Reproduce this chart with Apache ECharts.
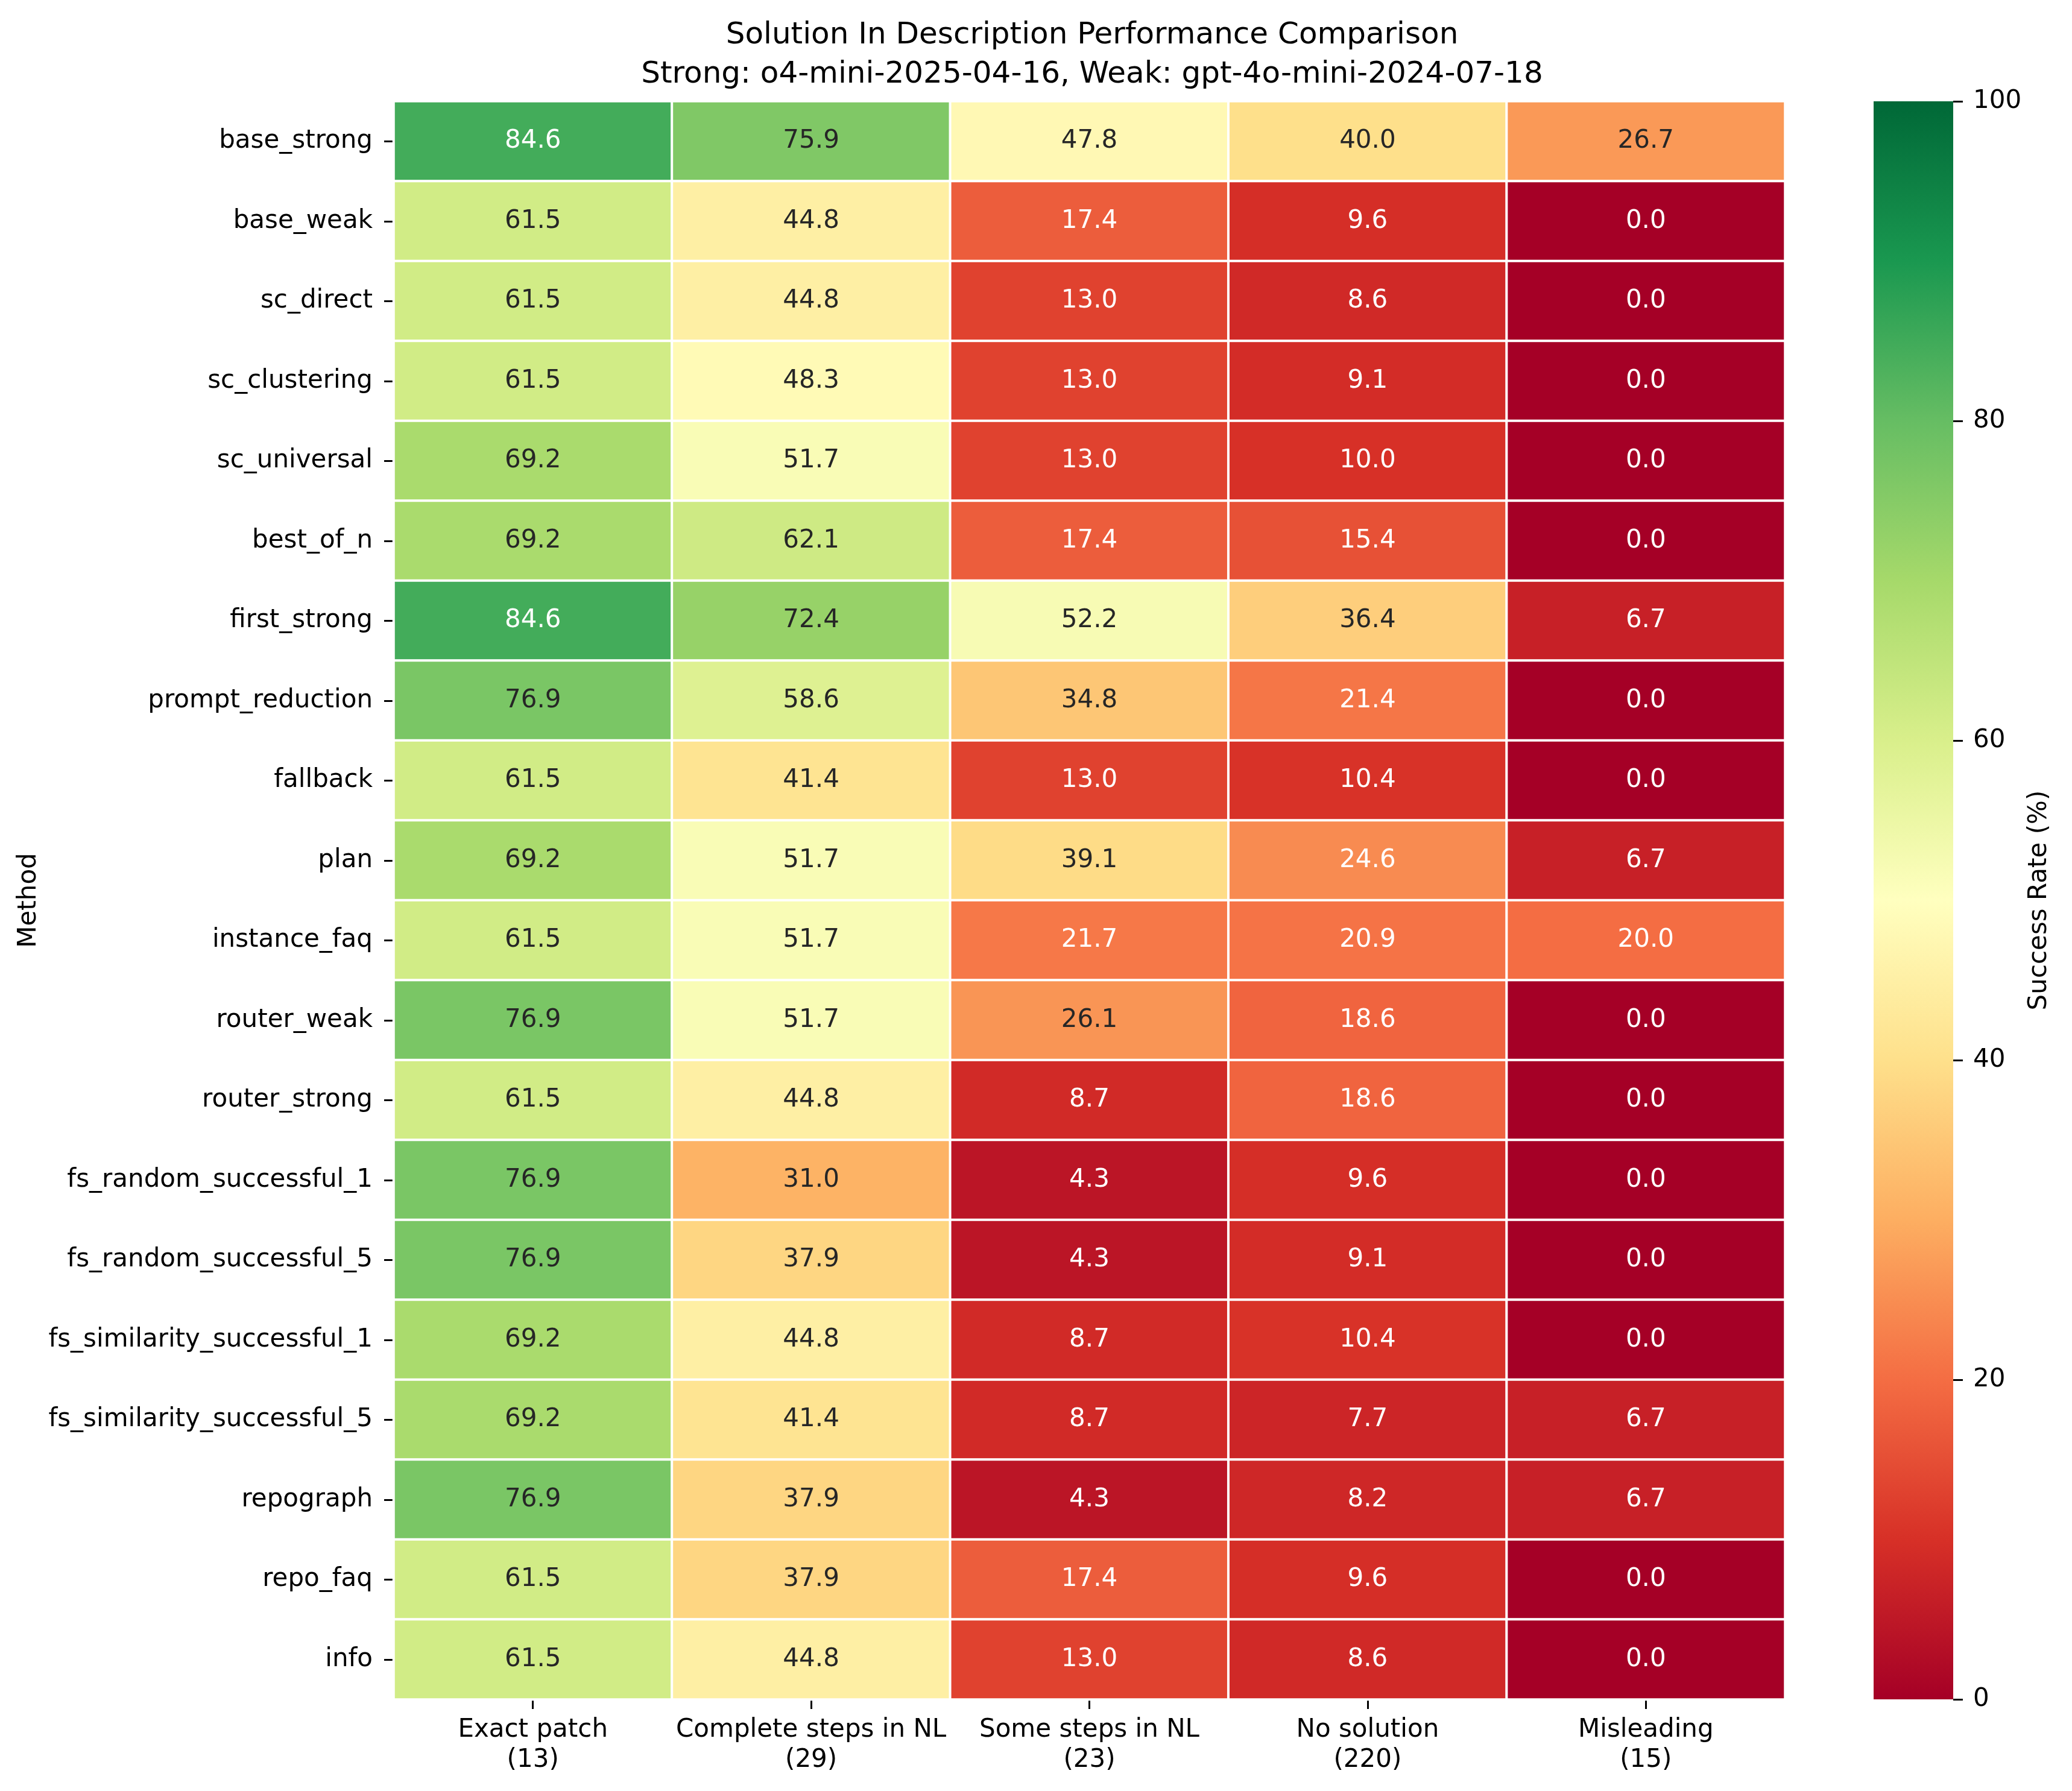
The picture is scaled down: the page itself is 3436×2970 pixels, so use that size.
<!DOCTYPE html>
<html>
<head>
<meta charset="utf-8">
<script src="https://cdn.jsdelivr.net/npm/echarts@6/dist/echarts.min.js"></script>
<style>
html,body{margin:0;padding:0;background:#fff;}
#chart{width:3436px;height:2970px;}
</style>
</head>
<body>
<div id="chart"></div>
<script>
// ---- data ----
var methods = ["base_strong","base_weak","sc_direct","sc_clustering","sc_universal","best_of_n","first_strong","prompt_reduction","fallback","plan","instance_faq","router_weak","router_strong","fs_random_successful_1","fs_random_successful_5","fs_similarity_successful_1","fs_similarity_successful_5","repograph","repo_faq","info"];
var categories = ["Exact patch\n(13)","Complete steps in NL\n(29)","Some steps in NL\n(23)","No solution\n(220)","Misleading\n(15)"];
var exactPatch    = [84.6,61.5,61.5,61.5,69.2,69.2,84.6,76.9,61.5,69.2,61.5,76.9,61.5,76.9,76.9,69.2,69.2,76.9,61.5,61.5];
var completeSteps = [75.9,44.8,44.8,48.3,51.7,62.1,72.4,58.6,41.4,51.7,51.7,51.7,44.8,31.0,37.9,44.8,41.4,37.9,37.9,44.8];
var someSteps     = [47.8,17.4,13.0,13.0,13.0,17.4,52.2,34.8,13.0,39.1,21.7,26.1,8.7,4.3,4.3,8.7,8.7,4.3,17.4,13.0];
var noSolution    = [40.0,9.6,8.6,9.1,10.0,15.4,36.4,21.4,10.4,24.6,20.9,18.6,18.6,9.6,9.1,10.4,7.7,8.2,9.6,8.6];
var misleading    = [26.7,0.0,0.0,0.0,0.0,0.0,6.7,0.0,0.0,6.7,20.0,0.0,0.0,0.0,0.0,0.0,6.7,6.7,0.0,0.0];
var colorbarTicks = [0,20,40,60,80,100];

// RdYlGn colormap control points
var rdylgn = ["#a50026","#d73027","#f46d43","#fdae61","#fee08b","#ffffbf","#d9ef8b","#a6d96a","#66bd63","#1a9850","#006837"];

function hexToRgb(h){return [parseInt(h.substr(1,2),16),parseInt(h.substr(3,2),16),parseInt(h.substr(5,2),16)];}
function cmap(v){
  var t=Math.max(0,Math.min(1,v/100))*(rdylgn.length-1);
  var i=Math.min(Math.floor(t),rdylgn.length-2), f=t-i;
  var a=hexToRgb(rdylgn[i]), b=hexToRgb(rdylgn[i+1]);
  return [a[0]+(b[0]-a[0])*f,a[1]+(b[1]-a[1])*f,a[2]+(b[2]-a[2])*f];
}
function lum(rgb){
  var c=rgb.map(function(x){x=x/255;return x<=0.03928?x/12.92:Math.pow((x+0.055)/1.055,2.4);});
  return 0.2126*c[0]+0.7152*c[1]+0.0722*c[2];
}

var columns=[exactPatch,completeSteps,someSteps,noSolution,misleading];
var heatData=[];
columns.forEach(function(col,ci){
  col.forEach(function(v,ri){
    heatData.push({value:[ci,ri,v],label:{color: lum(cmap(v))>0.408 ? '#262626' : '#ffffff'}});
  });
});

var FONT='DejaVu Sans';
var chart=echarts.init(document.getElementById('chart'),null,{renderer:'canvas'});
var gradStops=rdylgn.map(function(c,i){return {offset:1-i/(rdylgn.length-1),color:c};});

chart.setOption({
  backgroundColor:'#ffffff',
  animation:false,
  textStyle:{fontFamily:FONT},
  title:{
    text:"Solution In Description Performance Comparison\nStrong: o4-mini-2025-04-16, Weak: gpt-4o-mini-2024-07-18",
    left:1806, top:22, textAlign:'center',
    textStyle:{fontFamily:FONT,fontSize:50,fontWeight:'normal',color:'#000',lineHeight:65}
  },
  grid:[
    {left:653,top:168,width:2307,height:2650},
    {left:3107,top:168,width:132,height:2650}
  ],
  xAxis:[
    {type:'category',gridIndex:0,data:categories,position:'bottom',
     axisLine:{show:false},
     axisTick:{show:true,alignWithLabel:true,length:16,lineStyle:{color:'#000',width:3}},
     axisLabel:{fontFamily:FONT,fontSize:42,color:'#000',lineHeight:50,margin:26,interval:0},
     splitLine:{show:false}},
    {type:'category',gridIndex:1,data:['cb'],show:false}
  ],
  yAxis:[
    {type:'category',gridIndex:0,data:methods,inverse:true,
     axisLine:{show:false},
     axisTick:{show:true,alignWithLabel:true,length:16,lineStyle:{color:'#000',width:3}},
     axisLabel:{fontFamily:FONT,fontSize:42,color:'#000',margin:35,interval:0},
     name:'Method',nameLocation:'middle',nameRotate:90,nameGap:573,
     nameTextStyle:{fontFamily:FONT,fontSize:42,color:'#000'},
     splitLine:{show:false}},
    {type:'value',gridIndex:1,min:0,max:100,interval:20,position:'right',
     axisLine:{show:false},
     axisTick:{show:true,length:16,lineStyle:{color:'#000',width:3}},
     axisLabel:{fontFamily:FONT,fontSize:42,color:'#000',margin:33},
     name:'Success Rate (%)',nameLocation:'middle',nameRotate:90,nameGap:122,
     nameTextStyle:{fontFamily:FONT,fontSize:42,color:'#000'},
     splitLine:{show:false}}
  ],
  visualMap:{type:'continuous',min:0,max:100,show:false,seriesIndex:0,dimension:2,
    inRange:{color:rdylgn}},
  series:[
    {type:'heatmap',xAxisIndex:0,yAxisIndex:0,data:heatData,
     itemStyle:{borderColor:'#ffffff',borderWidth:4},
     label:{show:true,fontFamily:FONT,fontSize:42,
       formatter:function(p){return p.value[2].toFixed(1);}},
     emphasis:{disabled:true}},
    {type:'bar',xAxisIndex:1,yAxisIndex:1,data:[colorbarTicks[colorbarTicks.length-1]],barWidth:'100%',
     itemStyle:{color:new echarts.graphic.LinearGradient(0,0,0,1,gradStops)},
     emphasis:{disabled:true},silent:true}
  ]
});
</script>
</body>
</html>
